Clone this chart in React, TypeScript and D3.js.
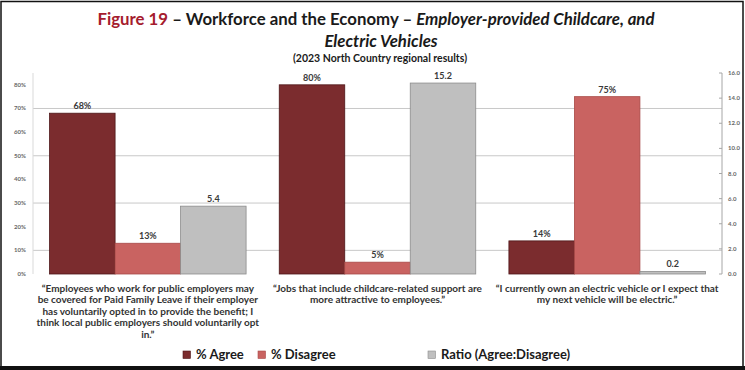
import React from "react";
import * as d3 from "d3";

const categories = ["Q1", "Q2", "Q3"];
const categoryLines = [
  [
    "“Employees who work for public employers may",
    "be covered for Paid Family Leave if their employer",
    "has voluntarily opted in to provide the benefit; I",
    "think local public employers should voluntarily opt",
    "in.”",
  ],
  ["“Jobs that include childcare-related support are", "more attractive to employees.”"],
  ["“I currently own an electric vehicle or I expect that", "my next vehicle will be electric.”"],
];
const agree = [0.68, 0.8, 0.14];
const disagree = [0.13, 0.05, 0.75];
const ratio = [5.4, 15.2, 0.2];
const agreeLabels = ["68%", "80%", "14%"];
const disagreeLabels = ["13%", "5%", "75%"];
const ratioLabels = ["5.4", "15.2", "0.2"];
const leftTicks = [0, 0.1, 0.2, 0.3, 0.4, 0.5, 0.6, 0.7, 0.8];
const rightTicks = [0, 2, 4, 6, 8, 10, 12, 14, 16];
const gridTicks = [0.1, 0.3, 0.5, 0.7];
const seriesNames = ["% Agree", "% Disagree", "Ratio (Agree:Disagree)"];

const FONT = "Lato, 'Open Sans', sans-serif";
const C_AGREE = "#7B2C2E";
const C_DIS = "#C96361";
const C_RATIO = "#BFBFBF";

export default function App() {
  const W = 745, H = 370;
  const plotL = 33, plotR = 722, base = 274, top = 73;
  const x0 = d3.scaleBand<string>().domain(categories).range([plotL, plotR]).paddingInner(0.1444).paddingOuter(0.0722);
  const x1 = d3.scaleBand<string>().domain(["a", "d", "r"]).range([0, x0.bandwidth()]).padding(0);
  const yL = d3.scaleLinear().domain([0, 0.85]).range([base, top]);
  const yR = d3.scaleLinear().domain([0, 16]).range([base, top]);
  const fmtPct = d3.format(".0%");
  const fmtR = d3.format(".1f");

  const bars: any[] = [];
  categories.forEach((c, i) => {
    const gx = x0(c)!;
    const items = [
      { k: "a", y: yL(agree[i]), fill: C_AGREE, stroke: "#4e1618", label: agreeLabels[i] },
      { k: "d", y: yL(disagree[i]), fill: C_DIS, stroke: "#a84a48", label: disagreeLabels[i] },
      { k: "r", y: yR(ratio[i]), fill: C_RATIO, stroke: "#8c8c8c", label: ratioLabels[i] },
    ];
    items.forEach((it) => {
      const bx = gx + x1(it.k)!;
      bars.push(
        <g key={c + it.k}>
          <rect x={bx} y={it.y} width={x1.bandwidth()} height={base - it.y} fill={it.fill} stroke={it.stroke} strokeWidth={0.8} />
          <text x={bx + x1.bandwidth() / 2} y={it.y - 4} textAnchor="middle" fontSize={9} fontWeight={700} fill="#3a3a3a" fontFamily={FONT}>
            {it.label}
          </text>
        </g>
      );
    });
  });

  const legendItems = [
    { name: seriesNames[0], x: 183, fill: C_AGREE, stroke: "#4e1618" },
    { name: seriesNames[1], x: 258, fill: C_DIS, stroke: "#a84a48" },
    { name: seriesNames[2], x: 428, fill: C_RATIO, stroke: "#8c8c8c" },
  ];

  return (
    <svg width={W} height={H} style={{ position: "absolute", left: 0, top: 0, background: "#fff" }}>
      <rect x={0} y={0} width={W} height={H} fill="#fff" />
      <rect x={1} y={1.5} width={W - 3} height={H - 3.5} fill="none" stroke="#111" strokeWidth={1.5} />
      <rect x={0} y={366} width={W} height={4} fill="#111" />
      {/* title */}
      <text x={376} y={25} textAnchor="middle" fontSize={16.8} fontWeight={700} fontFamily={FONT} fill="#1a1a1a">
        <tspan fill="#A51C2E">Figure 19</tspan>
        <tspan> – Workforce and the Economy – </tspan>
        <tspan fontStyle="italic">Employer-provided Childcare, and</tspan>
      </text>
      <text x={381} y={47} textAnchor="middle" fontSize={16.8} fontWeight={700} fontStyle="italic" fontFamily={FONT} fill="#1a1a1a">
        Electric Vehicles
      </text>
      <text x={380} y={62} textAnchor="middle" fontSize={10.5} fontWeight={700} fontFamily={FONT} fill="#1a1a1a">
        (2023 North Country regional results)
      </text>
      {/* grid */}
      {gridTicks.map((t) => (
        <line key={t} x1={plotL} x2={plotR} y1={yL(t)} y2={yL(t)} stroke="#c8c8c8" strokeWidth={1} />
      ))}
      <line x1={plotL} x2={plotL} y1={top} y2={base} stroke="#d9d9d9" strokeWidth={1} />
      {/* left axis labels */}
      {leftTicks.map((t) => (
        <text key={t} x={26} y={yL(t) + 2} textAnchor="end" fontSize={6} fontWeight={700} fontFamily={FONT} fill="#666">
          {fmtPct(t)}
        </text>
      ))}
      {/* right axis */}
      <line x1={plotR} x2={plotR} y1={top} y2={base} stroke="#a6a6a6" strokeWidth={1} />
      {rightTicks.map((t) => (
        <g key={t}>
          <line x1={plotR - 3} x2={plotR} y1={yR(t)} y2={yR(t)} stroke="#a6a6a6" strokeWidth={1} />
          <text x={728} y={yR(t) + 2} textAnchor="start" fontSize={6} fontWeight={700} fontFamily={FONT} fill="#666">
            {fmtR(t)}
          </text>
        </g>
      ))}
      {bars}
      {/* category labels */}
      {categories.map((c, i) => (
        <text key={c} textAnchor="middle" fontSize={10} fontWeight={700} fontFamily={FONT} fill="#333">
          {categoryLines[i].map((ln, j) => (
            <tspan key={j} x={x0(c)! + x0.bandwidth() / 2} y={292 + j * 11.4}>
              {ln}
            </tspan>
          ))}
        </text>
      ))}
      {/* legend */}
      {legendItems.map((l) => (
        <g key={l.name}>
          <rect x={l.x} y={351} width={7.5} height={7.5} fill={l.fill} stroke={l.stroke} strokeWidth={0.6} />
          <text x={l.x + 13} y={359} fontSize={13} fontWeight={700} fontFamily={FONT} fill="#1a1a1a">
            {l.name}
          </text>
        </g>
      ))}
    </svg>
  );
}
